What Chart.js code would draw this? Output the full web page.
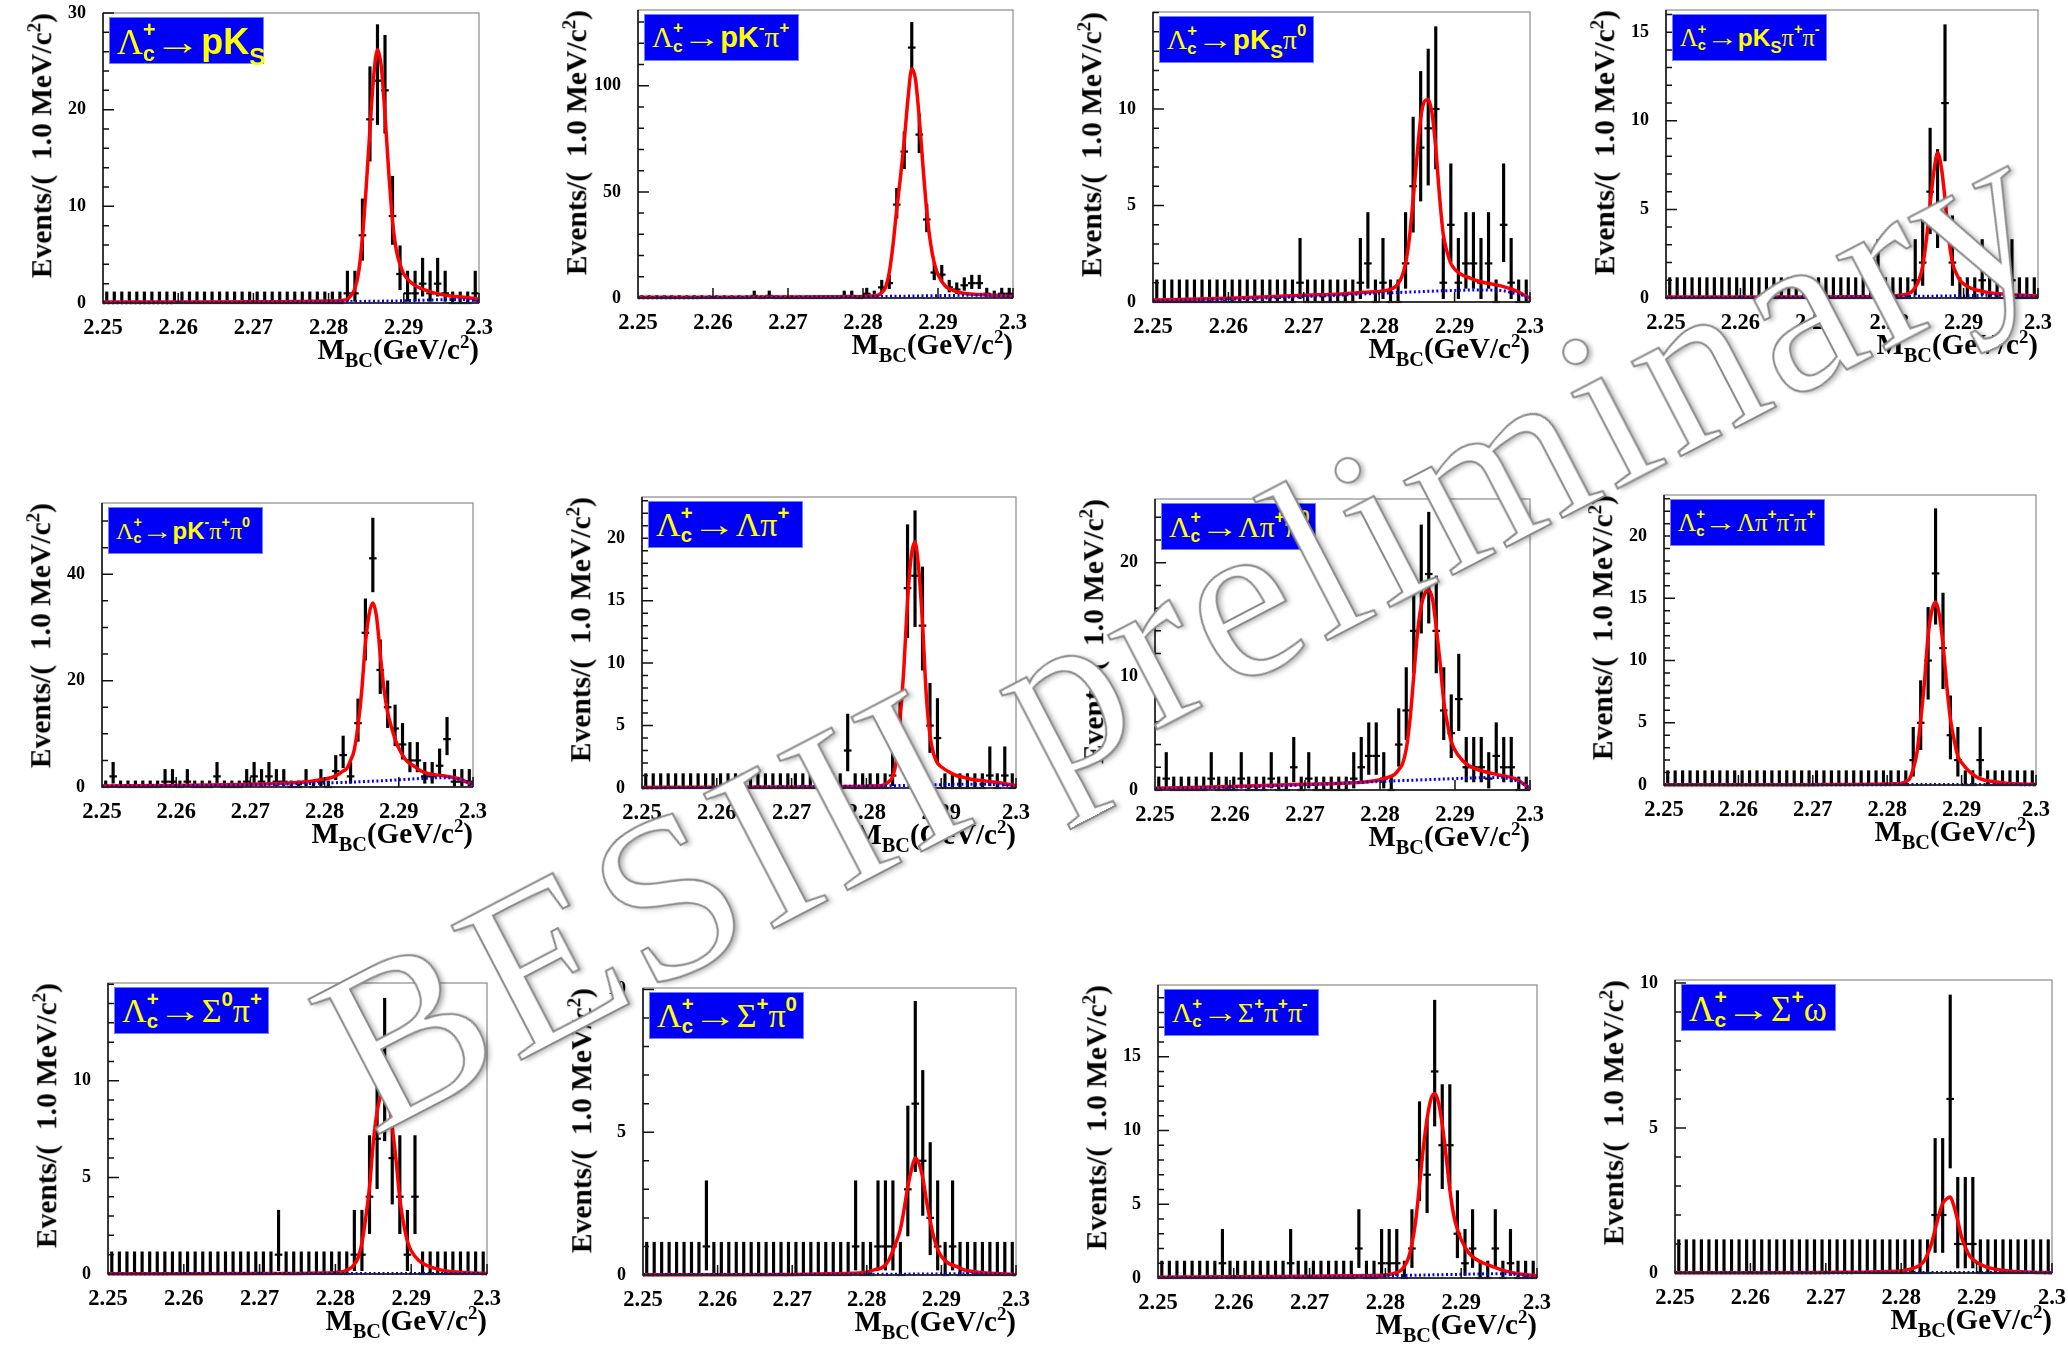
<!DOCTYPE html>
<html><head><meta charset="utf-8">
<script src="https://cdn.jsdelivr.net/npm/chart.js@4.4.1/dist/chart.umd.min.js"></script>
<style>
html,body{margin:0;padding:0;background:#fff;}
body{width:2068px;height:1349px;position:relative;overflow:hidden;font-family:'Liberation Serif',serif;}
canvas.pc{position:absolute;}
.xt{position:absolute;font:bold 29px 'Liberation Serif',serif;line-height:1;white-space:nowrap;color:#000;}
.xt sub{font-size:70%;vertical-align:-0.4em;line-height:0;}
.xt sup,.yt sup{font-size:65%;vertical-align:0.6em;line-height:0;}
.yt{position:absolute;left:0;top:0;transform-origin:0 0;font:bold 29.5px 'Liberation Serif',serif;line-height:1;white-space:nowrap;color:#000;}
.lb{position:absolute;background:#0000f6;border:1px solid #7080ff;color:#ffff00;box-sizing:border-box;white-space:nowrap;font-family:'Liberation Sans',Arial,sans-serif;font-weight:bold;padding-left:7px;line-height:45px;}
.lb .g{font-family:'Liberation Serif',serif;font-weight:normal;}
.lb .ar{font-weight:normal;display:inline-block;transform:scaleX(1.3);margin:0 0.14em 0 0.1em;}
.lb .st{display:inline-block;vertical-align:-0.3em;font-size:60%;line-height:1.1;margin:0 1px 0 0;}
.lb .st span{display:block;}
.lb sub{font-size:68%;vertical-align:-0.45em;line-height:0;}
.lb sup{font-size:60%;vertical-align:0.8em;line-height:0;}
.wm{position:absolute;left:0;top:0;z-index:10;pointer-events:none;font-family:'Liberation Serif',serif;font-size:232px;line-height:1;white-space:nowrap;color:#fff;-webkit-text-stroke:2px #8a8a8a;text-shadow:3px 3px 5px rgba(0,0,0,0.3);letter-spacing:6px;transform-origin:0 0;}
</style>
</head>
<body>
<script>
// ---------------- DATA ----------------
const binCenters = [
2.2505,2.2515,2.2525,2.2535,2.2545,2.2555,2.2565,2.2575,2.2585,2.2595,
2.2605,2.2615,2.2625,2.2635,2.2645,2.2655,2.2665,2.2675,2.2685,2.2695,
2.2705,2.2715,2.2725,2.2735,2.2745,2.2755,2.2765,2.2775,2.2785,2.2795,
2.2805,2.2815,2.2825,2.2835,2.2845,2.2855,2.2865,2.2875,2.2885,2.2895,
2.2905,2.2915,2.2925,2.2935,2.2945,2.2955,2.2965,2.2975,2.2985,2.2995];

const xTickValues = [2.25, 2.26, 2.27, 2.28, 2.29, 2.30];
const xTickLabels = ['2.25', '2.26', '2.27', '2.28', '2.29', '2.3'];

const decayNames = ['pKS','pK-pi+','pKSpi0','pKSpi+pi-','pK-pi+pi0','Lambdapi+','Lambdapi+pi0','Lambdapi+pi-pi+','Sigma0pi+','Sigma+pi0','Sigma+pi+pi-','Sigma+omega'];

const countsPKs = [
0,0,0,0,0,0,0,0,0,0, 0,0,0,0,0,0,0,0,0,0, 0,0,0,0,0,0,0,0,0,0,
0,0,1,1,7,19,23,22,9,3, 1,1,2,1,2,1,0,0,0,1];
const countsPKPi = [
0,0,0,0,0,0,0,0,0,0, 0,0,0,0,0,1,0,1,0,0, 0,0,0,0,0,0,0,1,1,0,
2,1,5,7,44,69,118,77,37,12, 11,5,4,6,7,7,2,1,2,2];
const countsPKsPi0 = [
0,0,0,0,0,0,0,0,0,0, 0,0,0,0,0,0,0,0,0,1, 0,0,0,0,0,0,0,1,2,0,
1,0,0,2,6,8,9,10,1,4, 1,2,2,1,2,0,4,1,0,0];
const countsPKsPiPi = [
0,0,0,0,0,0,0,0,0,0, 0,0,0,0,0,0,0,0,0,0, 0,0,0,0,0,0,0,0,1,0,
0,0,0,1,2,6,5,11,2,0, 0,0,1,0,0,0,1,0,0,0];
const countsPKPiPi0 = [
0,2,0,0,0,0,0,0,1,1, 0,1,0,0,0,2,0,0,0,1, 2,1,2,1,1,0,0,1,0,1,
0,3,6,2,12,29,43,22,15,11, 8,5,5,2,2,4,9,1,1,1];
const countsLPi = [
0,0,0,0,0,0,0,0,0,0, 0,0,0,0,0,0,0,0,0,0, 0,0,0,0,0,0,0,3,0,0,
0,0,0,1,4,16,17,13,5,4, 0,0,0,0,0,0,1,0,1,0];
const countsLPiPi0 = [
0,1,0,0,0,0,0,1,0,0, 0,1,0,0,0,1,0,0,2,0, 1,0,0,0,0,0,1,2,3,3,
1,0,4,7,14,18,19,14,7,5, 8,2,2,2,1,3,2,2,0,0];
const countsLPiPiPi = [
0,0,0,0,0,0,0,0,0,0, 0,0,0,0,0,0,0,0,0,0, 0,0,0,0,0,0,0,0,0,0,
0,0,0,2,5,10,17,11,4,2, 0,0,2,0,0,0,0,0,0,0];
const countsS0Pi = [
0,0,0,0,0,0,0,0,0,0, 0,0,0,0,0,0,0,0,0,0, 0,0,1,0,0,0,0,0,0,0,
0,0,1,1,4,7,10,6,4,1, 4,0,0,0,0,0,0,0,0,0];
const countsSPi0 = [
0,0,0,0,0,0,0,0,1,0, 0,0,0,0,0,0,0,0,0,0, 0,0,0,0,0,0,0,0,1,0,
0,1,1,1,0,3,6,4,2,1, 0,1,0,0,0,0,0,0,0,0];
const countsSPiPi = [
0,0,0,0,0,0,0,0,1,0, 0,0,0,0,0,0,0,1,0,0, 0,0,0,0,0,0,2,0,0,1,
1,1,0,2,8,7,14,9,9,3, 1,2,0,0,2,0,1,0,0,0];
const countsSOmega = [
0,0,0,0,0,0,0,0,0,0, 0,0,0,0,0,0,0,0,0,0, 0,0,0,0,0,0,0,0,0,0,
0,0,0,0,2,2,6,1,1,1, 0,0,0,0,0,0,0,0,0,0];

// fit curve sample points
const fitX = [2.25,2.26,2.27,2.275,2.278,2.28,2.281,2.282,2.2825,2.283,2.2835,2.284,2.2845,2.285,2.2855,2.286,
              2.2865,2.287,2.2875,2.288,2.2885,2.289,2.2895,2.29,2.291,2.292,2.293,2.294,2.296,2.298,2.3];
const fitPKs = [0.1,0.1,0.12,0.15,0.17,0.2,0.22,0.3,0.4,0.8,1.5,3.2,6.8,12,18,23.5,26.2,24.5,19.5,13.5,8.5,5.5,4,3,2.1,1.6,1.3,1.05,0.75,0.6,0.4];
const fitPKPi = [0.3,0.4,0.5,0.55,0.6,0.7,0.9,1.3,2.6,5,12,25,42,57,74,94,108,103,85,62,41,26,16.5,11,5.5,3.6,2.5,2.0,1.55,1.3,0.5];
const fitPKsPi0 = [0.1,0.2,0.35,0.42,0.5,0.55,0.6,0.75,0.95,1.3,2.0,3.3,5.3,7.5,9.5,10.4,10.5,9.8,8,5.5,3.5,2.6,2.0,1.7,1.4,1.25,1.1,1.0,0.85,0.6,0.2];
const fitPKsPiPi = [0.05,0.05,0.06,0.07,0.08,0.1,0.13,0.18,0.25,0.35,0.6,1.0,1.8,3.3,5.3,7.1,8.2,7.4,5.6,3.4,2.0,1.4,1.0,0.8,0.55,0.42,0.33,0.27,0.2,0.15,0.12];
const fitPKPiPi0 = [0.2,0.3,0.5,0.75,1.05,1.5,1.8,2.5,3.0,3.5,5,7,11.5,18,27,32.5,34.6,32,25,18.5,14,11.3,9,7.3,5,4,3,2.5,2.1,1.6,0.4];
const fitLPi = [0.05,0.06,0.08,0.1,0.12,0.14,0.17,0.2,0.3,0.5,0.9,2.2,5.5,9.5,15,18.6,19.7,17.5,13.2,7.5,4.2,2.7,2.0,1.7,1.3,1.0,0.85,0.7,0.55,0.4,0.2];
const fitLPiPi0 = [0.15,0.3,0.5,0.6,0.7,0.9,1.1,1.4,1.8,2.3,3.6,6.2,10,13.8,16.2,17.3,17.6,16.8,14.3,11.3,7.8,5.8,4.3,3.5,2.6,2.1,1.8,1.6,1.3,1.0,0.15];
const fitLPiPiPi = [0.02,0.02,0.03,0.04,0.06,0.08,0.1,0.15,0.3,0.5,1.3,2.6,5.2,8.2,12,14,14.7,13.7,11.3,8,5.3,3.6,2.3,1.8,1.1,0.65,0.4,0.3,0.15,0.08,0.05];
const fitS0Pi = [0.01,0.01,0.02,0.03,0.05,0.08,0.12,0.3,0.5,0.85,1.6,2.9,4.5,6.8,8.4,9.2,9.4,9.0,7.6,5.9,3.9,2.6,1.7,1.2,0.7,0.45,0.3,0.2,0.1,0.05,0.03];
const fitSPi0 = [0.01,0.01,0.02,0.04,0.06,0.1,0.18,0.25,0.35,0.55,0.85,1.2,1.6,2.3,3.1,3.7,4.1,3.9,3.4,2.6,1.9,1.3,0.9,0.65,0.4,0.3,0.18,0.13,0.07,0.04,0.02];
const fitSPiPi = [0.05,0.08,0.12,0.15,0.17,0.2,0.3,0.5,0.8,1.3,2.3,3.9,6.3,8.8,10.8,12.1,12.5,11.9,10.4,8.3,6.0,4.3,3.3,2.6,1.7,1.25,1.0,0.8,0.45,0.25,0.15];
const fitSOmega = [0.005,0.01,0.02,0.03,0.05,0.07,0.12,0.2,0.28,0.4,0.65,1.0,1.5,2.0,2.4,2.55,2.62,2.3,1.8,1.25,0.9,0.62,0.47,0.37,0.24,0.16,0.11,0.08,0.04,0.02,0.01];

// background curve sample points
const bkgX = [2.25,2.26,2.27,2.28,2.285,2.29,2.293,2.296,2.298,2.299,2.3];
const bkgPKs = [0.02,0.04,0.07,0.12,0.17,0.23,0.3,0.35,0.35,0.3,0.15];
const bkgPKPi = [0.1,0.2,0.35,0.6,0.85,1.1,1.25,1.3,1.2,1.0,0.4];
const bkgPKsPi0 = [0.05,0.15,0.28,0.45,0.53,0.6,0.62,0.6,0.45,0.35,0.1];
const bkgPKsPiPi = [0.02,0.03,0.05,0.08,0.1,0.13,0.15,0.15,0.12,0.1,0.03];
const bkgPKPiPi0 = [0.15,0.25,0.4,0.75,1.0,1.35,1.6,1.75,1.5,1.1,0.3];
const bkgLPi = [0.02,0.05,0.1,0.15,0.2,0.27,0.3,0.3,0.25,0.2,0.05];
const bkgLPiPi0 = [0.12,0.25,0.45,0.75,0.88,1.0,1.08,1.1,0.85,0.6,0.1];
const bkgLPiPiPi = [0.02,0.02,0.03,0.03,0.04,0.04,0.04,0.04,0.03,0.03,0.01];
const bkgS0Pi = [0.01,0.02,0.02,0.03,0.03,0.03,0.03,0.03,0.03,0.02,0.01];
const bkgSPi0 = [0.01,0.02,0.02,0.03,0.03,0.04,0.04,0.04,0.03,0.02,0.01];
const bkgSPiPi = [0.03,0.05,0.08,0.15,0.2,0.25,0.28,0.28,0.2,0.15,0.05];
const bkgSOmega = [0.01,0.01,0.01,0.02,0.02,0.02,0.02,0.02,0.02,0.01,0.01];

// y axis tick marks (major labelled, minor step)
const yMajorTicks = [[0,10,20,30],[0,50,100],[0,5,10],[0,5,10,15],[0,20,40],[0,5,10,15,20],
                     [0,10,20],[0,5,10,15,20],[0,5,10],[0,5,10],[0,5,10,15],[0,5,10]];
const yMinorStep = [2,10,1,1,5,1,2,1,1,1,1,1];
const yMaxValues = [30,135.7,15.03,16.25,53.4,23.3,25.6,23.3,15.06,10.05,19.86,10.1];

// Poisson (Garwood, RooFit style) 68% intervals for small counts
const poissonLow  = [0,0.173,0.708,1.367,2.086,2.840,3.620,4.419,5.232,6.057,6.891,7.734,8.585,9.441,10.30,11.17,12.04,12.92,13.80,14.68,15.57];
const poissonHigh = [1.148,3.300,4.638,5.918,7.163,8.382,9.584,10.77,11.95,13.11,14.27,15.42,16.56,17.70,18.83,19.96,21.08,22.20,23.32,24.44,25.55];

const allCounts = [countsPKs,countsPKPi,countsPKsPi0,countsPKsPiPi,countsPKPiPi0,countsLPi,countsLPiPi0,countsLPiPiPi,countsS0Pi,countsSPi0,countsSPiPi,countsSOmega];
const allFits = [fitPKs,fitPKPi,fitPKsPi0,fitPKsPiPi,fitPKPiPi0,fitLPi,fitLPiPi0,fitLPiPiPi,fitS0Pi,fitSPi0,fitSPiPi,fitSOmega];
const allBkgs = [bkgPKs,bkgPKPi,bkgPKsPi0,bkgPKsPiPi,bkgPKPiPi0,bkgLPi,bkgLPiPi0,bkgLPiPiPi,bkgS0Pi,bkgSPi0,bkgSPiPi,bkgSOmega];

// ---------------- LAYOUT (frames in page pixels) ----------------
const frames = [
 {L:103,T:13,R:479,B:303},{L:638,T:10,R:1013,B:298},{L:1153,T:12,R:1530,B:302},{L:1666,T:10,R:2038,B:298},
 {L:102,T:503,R:473,B:787},{L:642,T:497,R:1016,B:788},{L:1155,T:499,R:1530,B:790},{L:1664,T:495,R:2036,B:785},
 {L:108,T:983,R:487,B:1274},{L:643,T:988,R:1016,B:1275},{L:1158,T:985,R:1537,B:1278},{L:1675,T:980,R:2052,B:1273}];
const labelFont = [36,29,28,24.5,24,34,29.5,25,34,34,28,35];

const LC = '<span class="g">Λ</span><span class="st"><span>+</span><span>c</span></span><span class="ar">→</span>';
const pi = '<span class="g">π</span>';
const labelHtml = [
 LC+'pK<sub>S</sub>',
 LC+'pK<sup>-</sup>'+pi+'<sup>+</sup>',
 LC+'pK<sub>S</sub>'+pi+'<sup>0</sup>',
 LC+'pK<sub>S</sub>'+pi+'<sup>+</sup>'+pi+'<sup>-</sup>',
 LC+'pK<sup>-</sup>'+pi+'<sup>+</sup>'+pi+'<sup>0</sup>',
 LC+'<span class="g">Λπ</span><sup>+</sup>',
 LC+'<span class="g">Λπ</span><sup>+</sup>'+pi+'<sup>0</sup>',
 LC+'<span class="g">Λπ</span><sup>+</sup>'+pi+'<sup>-</sup>'+pi+'<sup>+</sup>',
 LC+'<span class="g">Σ</span><sup>0</sup>'+pi+'<sup>+</sup>',
 LC+'<span class="g">Σ</span><sup>+</sup>'+pi+'<sup>0</sup>',
 LC+'<span class="g">Σ</span><sup>+</sup>'+pi+'<sup>+</sup>'+pi+'<sup>-</sup>',
 LC+'<span class="g">Σ</span><sup>+</sup><span class="g">ω</span>'];

function poissonInterval(n){
  if (n < poissonLow.length) return [poissonLow[n], poissonHigh[n]];
  return [n - Math.sqrt(n) + 0.25, n + Math.sqrt(n) + 1];
}

const rootAxes = {
  id:'rootAxes',
  afterDatasetsDraw(chart, args, o){
    const {ctx, chartArea:a, scales:{x,y}} = chart;
    ctx.save();
    ctx.strokeStyle = '#8a8a8a'; ctx.lineWidth = 1.2;
    ctx.strokeRect(a.left, a.top, a.right-a.left, a.bottom-a.top);
    ctx.strokeStyle = '#111'; ctx.lineWidth = 1.5;
    ctx.beginPath();
    ctx.moveTo(a.left, a.top); ctx.lineTo(a.left, a.bottom); ctx.lineTo(a.right, a.bottom);
    o.major.forEach(v=>{const py=y.getPixelForValue(v); ctx.moveTo(a.left,py); ctx.lineTo(a.left+11,py);});
    for (let v=0; v<=o.ymax+1e-9; v+=o.minor){
      if (o.major.some(m=>Math.abs(m-v)<1e-9)) continue;
      const py=y.getPixelForValue(v); ctx.moveTo(a.left,py); ctx.lineTo(a.left+6,py);
    }
    xTickValues.forEach(v=>{const px=x.getPixelForValue(v); ctx.moveTo(px,a.bottom); ctx.lineTo(px,a.bottom-10);});
    ctx.stroke();
    ctx.restore();
  }
};

const PL=100, PT=15, PR=32, PB=50;
frames.forEach((f,k)=>{
  const w = f.R - f.L + PL + PR, h = f.B - f.T + PT + PB;
  const cv = document.createElement('canvas');
  cv.className='pc'; cv.width=w; cv.height=h;
  cv.style.left=(f.L-PL)+'px'; cv.style.top=(f.T-PT)+'px'; cv.style.width=w+'px'; cv.style.height=h+'px';
  document.body.appendChild(cv);
  const counts = allCounts[k];
  new Chart(cv, {
    type:'scatter',
    data:{datasets:[
      {type:'line', label:'background', data:bkgX.map((x,i)=>({x, y:allBkgs[k][i]})), borderColor:'#0000ff', borderWidth:3, borderDash:[2,2.5], pointRadius:0, cubicInterpolationMode:'monotone', fill:false, order:0, clip:false},
      {type:'line', label:'fit', data:fitX.map((x,i)=>({x, y:allFits[k][i]})), borderColor:'#ff0000', borderWidth:3.5, pointRadius:0, cubicInterpolationMode:'monotone', fill:false, order:1, clip:false},
      {type:'scatter', label:'data', data:binCenters.map((x,i)=>({x, y:counts[i]})), pointStyle:'line', pointRadius:3.8, pointBorderWidth:2.2, pointBorderColor:'#000', borderColor:'#000', order:2, clip:false},
      {type:'bar', label:'errors', data:binCenters.map((x,i)=>({x, y:poissonInterval(counts[i])})), backgroundColor:'#000', borderWidth:0, barThickness:2.5, grouped:false, order:3}
    ]},
    options:{
      responsive:false, devicePixelRatio:1, animation:false, events:[],
      layout:{padding:{left:0, top:PT, right:PR, bottom:0}},
      plugins:{legend:{display:false}, tooltip:{enabled:false}, rootAxes:{major:yMajorTicks[k], minor:yMinorStep[k], ymax:yMaxValues[k]}},
      scales:{
        x:{type:'linear', min:2.25, max:2.30, offset:false, bounds:'data',
           grid:{display:false}, border:{display:false},
           ticks:{color:'#000', padding:4, maxRotation:0, autoSkip:false, font:{family:'Liberation Serif', weight:'bold', size:22.5},
                  callback:(v,i)=>xTickLabels[i]},
           afterBuildTicks:a=>{a.ticks = xTickValues.map(v=>({value:v}));},
           afterFit:a=>{a.height=PB; a.paddingLeft=0; a.paddingRight=0; a.paddingTop=0; a.paddingBottom=0;}},
        y:{type:'linear', min:0, max:yMaxValues[k], bounds:'data',
           grid:{display:false}, border:{display:false},
           ticks:{color:'#000', padding:9, font:{family:'Liberation Serif', weight:'bold', size:18}, callback:v=>String(v)},
           afterBuildTicks:a=>{a.ticks = yMajorTicks[k].map(v=>({value:v}));},
           afterFit:a=>{a.width=PL; a.paddingLeft=0; a.paddingRight=0; a.paddingTop=0; a.paddingBottom=0;}}
      }
    },
    plugins:[rootAxes]
  });

  const xt = document.createElement('div');
  xt.className='xt'; xt.style.right=(2068-f.R)+'px'; xt.style.top=(f.B+32)+'px';
  xt.innerHTML='M<sub>BC</sub>(GeV/c<sup>2</sup>)';
  document.body.appendChild(xt);

  const yt = document.createElement('div');
  yt.className='yt';
  yt.style.transform='translate('+(f.L-61)+'px,'+f.T+'px) rotate(-90deg) translate(-100%,-50%)';
  yt.innerHTML='Events/(&nbsp;&nbsp;1.0 MeV/c<sup>2</sup>)';
  document.body.appendChild(yt);

  const lb = document.createElement('div');
  lb.className='lb';
  lb.style.left=(f.L+6)+'px'; lb.style.top=(f.T+4)+'px'; lb.style.width='155px'; lb.style.height='47px';
  lb.style.fontSize=labelFont[k]+'px';
  lb.innerHTML=labelHtml[k];
  document.body.appendChild(lb);
});

const wm = document.createElement('div');
wm.className='wm';
wm.textContent='BESIII preliminary';
wm.style.transform='translate(1182px,628px) rotate(-27.5deg) translate(-50%,-50%)';
document.body.appendChild(wm);
</script>
</body></html>
